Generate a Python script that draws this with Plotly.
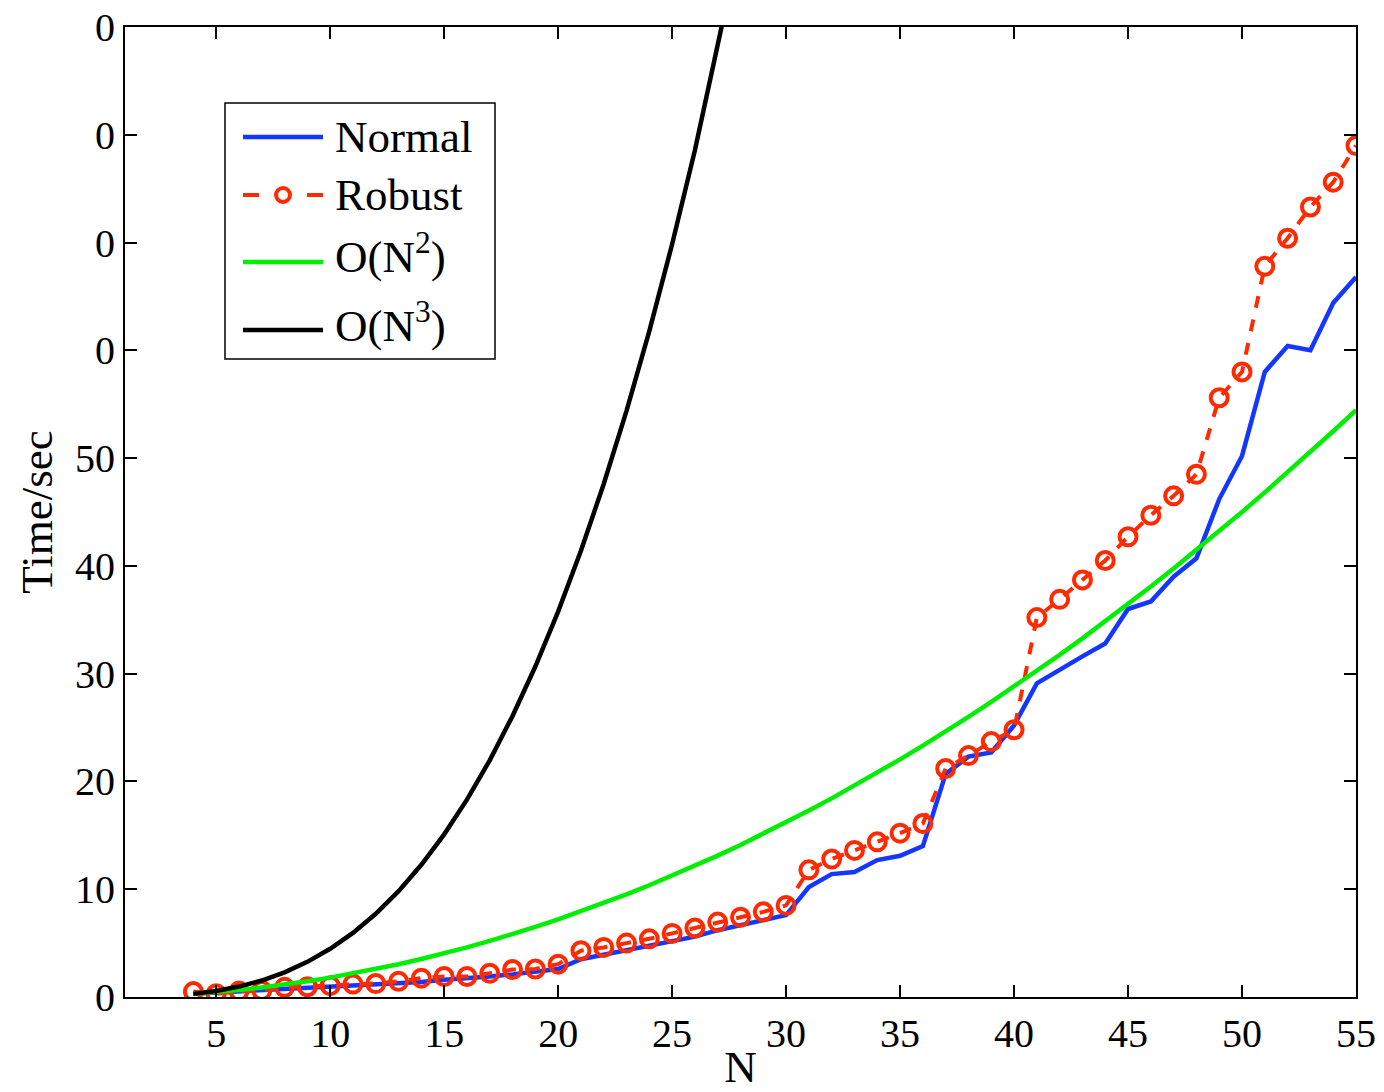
import plotly.graph_objects as go

N = list(range(4, 56))

normal = [0.3, 0.4, 0.5, 0.6, 0.8, 0.9, 1.0, 1.1, 1.2, 1.3, 1.4, 1.6, 1.7, 1.9, 2.1, 2.3, 2.6,
          3.5, 3.9, 4.3, 4.8, 5.2, 5.6, 6.2, 6.7, 7.2, 7.6,
          10.2, 11.4, 11.6, 12.7, 13.1, 14.0, 20.7, 22.3, 22.7, 25.2,
          29.1, 30.4, 31.6, 32.8, 36.0, 36.7, 39.0, 40.7, 46.2, 50.2,
          58.0, 60.4, 60.0, 64.4, 66.8]

robust = [0.5, 0.3, 0.55, 0.6, 0.9, 0.95, 1.05, 1.2, 1.25, 1.45, 1.75, 1.9, 1.9, 2.2, 2.55, 2.6, 3.05,
          4.3, 4.6, 5.0, 5.4, 5.9, 6.4, 6.95, 7.4, 7.9, 8.5,
          11.8, 12.8, 13.6, 14.4, 15.2, 16.1, 21.2, 22.4, 23.7, 24.8,
          35.2, 36.9, 38.7, 40.5, 42.7, 44.7, 46.5, 48.5, 55.6, 58.0,
          67.8, 70.4, 73.3, 75.6, 79.0]

on2 = [0.29, 0.45, 0.65, 0.88, 1.15, 1.46, 1.8, 2.18, 2.59, 3.04, 3.53, 4.05, 4.61, 5.2, 5.83,
       6.5, 7.2, 7.94, 8.71, 9.52, 10.37, 11.25, 12.17, 13.12, 14.11, 15.14, 16.2, 17.3, 18.43,
       19.6, 20.81, 22.05, 23.33, 24.64, 25.99, 27.38, 28.8, 30.26, 31.75, 33.28, 34.85, 36.45,
       38.09, 39.76, 41.47, 43.22, 45.0, 46.82, 48.67, 50.56, 52.49, 54.45]

N3 = list(range(4, 29))
on3 = [0.29, 0.56, 0.97, 1.53, 2.29, 3.26, 4.47, 5.95, 7.72, 9.82, 12.27, 15.09, 18.31, 21.96,
       26.07, 30.66, 35.76, 41.40, 47.60, 54.39, 61.79, 69.84, 78.57, 87.98, 98.13]

x_ticks = [5, 10, 15, 20, 25, 30, 35, 40, 45, 50, 55]
y_ticks = [0, 10, 20, 30, 40, 50, 60, 70, 80, 90]
y_ticktext = ["0", "10", "20", "30", "40", "50", "0", "0", "0", "0"]

series_names = ["Normal", "Robust", "O(N<sup>2</sup>)", "O(N<sup>3</sup>)"]
series_colors = ["#1437ff", "#ff2a00", "#00ee00", "#000000"]

FONT = "Liberation Serif"
W, H = 1384, 1092
ML, MR, MT, MB = 125, 28, 27, 95
PW, PH = W - ML - MR, H - MT - MB

fig = go.Figure()
fig.add_trace(go.Scatter(x=N, y=normal, mode="lines", name=series_names[0],
                         line=dict(color=series_colors[0], width=4.5)))
fig.add_trace(go.Scatter(x=N, y=robust, mode="lines+markers", name=series_names[1],
                         line=dict(color=series_colors[1], width=4, dash="dash"),
                         marker=dict(symbol="circle-open", size=17, color=series_colors[1],
                                     line=dict(width=4, color=series_colors[1]))))
fig.add_trace(go.Scatter(x=N, y=on2, mode="lines", name=series_names[2],
                         line=dict(color=series_colors[2], width=4.5)))
fig.add_trace(go.Scatter(x=N3, y=on3, mode="lines", name=series_names[3],
                         line=dict(color=series_colors[3], width=4.5)))

axis_common = dict(showline=True, linecolor="black", linewidth=2, mirror="ticks",
                   ticks="inside", ticklen=12, tickwidth=1.5, tickcolor="black",
                   showgrid=False, zeroline=False,
                   tickfont=dict(family=FONT, size=40, color="black"))

fig.update_xaxes(range=[1, 55], tickvals=x_ticks, ticktext=[str(v) for v in x_ticks],
                 title=dict(text="N", font=dict(family=FONT, size=45, color="black"), standoff=16),
                 **axis_common)
fig.update_yaxes(range=[0, 90], tickvals=y_ticks, ticktext=y_ticktext,
                 title=dict(text="Time/sec", font=dict(family=FONT, size=45, color="black"), standoff=8),
                 **axis_common)


# ---- custom legend box (pixel layout converted to paper coords) ----
def px(x):
    return (x - ML) / PW


def py(y):
    return (H - MB - y) / PH


shapes = [dict(type="rect", xref="paper", yref="paper", x0=px(225), x1=px(495), y0=py(359), y1=py(103),
               line=dict(color="black", width=1.5), fillcolor="white", layer="above")]
annotations = []
rows_y = [137, 195, 262, 330]
text_dy = [0, 0, -8, -8]
for i, (name, col, ry) in enumerate(zip(series_names, series_colors, rows_y)):
    if i == 1:
        shapes.append(dict(type="line", xref="paper", yref="paper", x0=px(243), x1=px(259),
                           y0=py(ry), y1=py(ry), line=dict(color=col, width=4), layer="above"))
        shapes.append(dict(type="line", xref="paper", yref="paper", x0=px(307), x1=px(323),
                           y0=py(ry), y1=py(ry), line=dict(color=col, width=4), layer="above"))
        shapes.append(dict(type="circle", xref="paper", yref="paper", x0=px(276), x1=px(290),
                           y0=py(ry + 7), y1=py(ry - 7), line=dict(color=col, width=4), layer="above"))
    else:
        shapes.append(dict(type="line", xref="paper", yref="paper", x0=px(243), x1=px(323),
                           y0=py(ry), y1=py(ry), line=dict(color=col, width=4.5), layer="above"))
    annotations.append(dict(xref="paper", yref="paper", x=px(333), y=py(ry + text_dy[i]),
                            xanchor="left", yanchor="middle", text=name, showarrow=False,
                            font=dict(family=FONT, size=45, color="black")))

fig.update_layout(
    width=W, height=H,
    margin=dict(l=ML, r=MR, t=MT, b=MB, autoexpand=False),
    paper_bgcolor="white", plot_bgcolor="white",
    showlegend=False,
    shapes=shapes,
    annotations=annotations,
)

fig.write_html("out.html")
